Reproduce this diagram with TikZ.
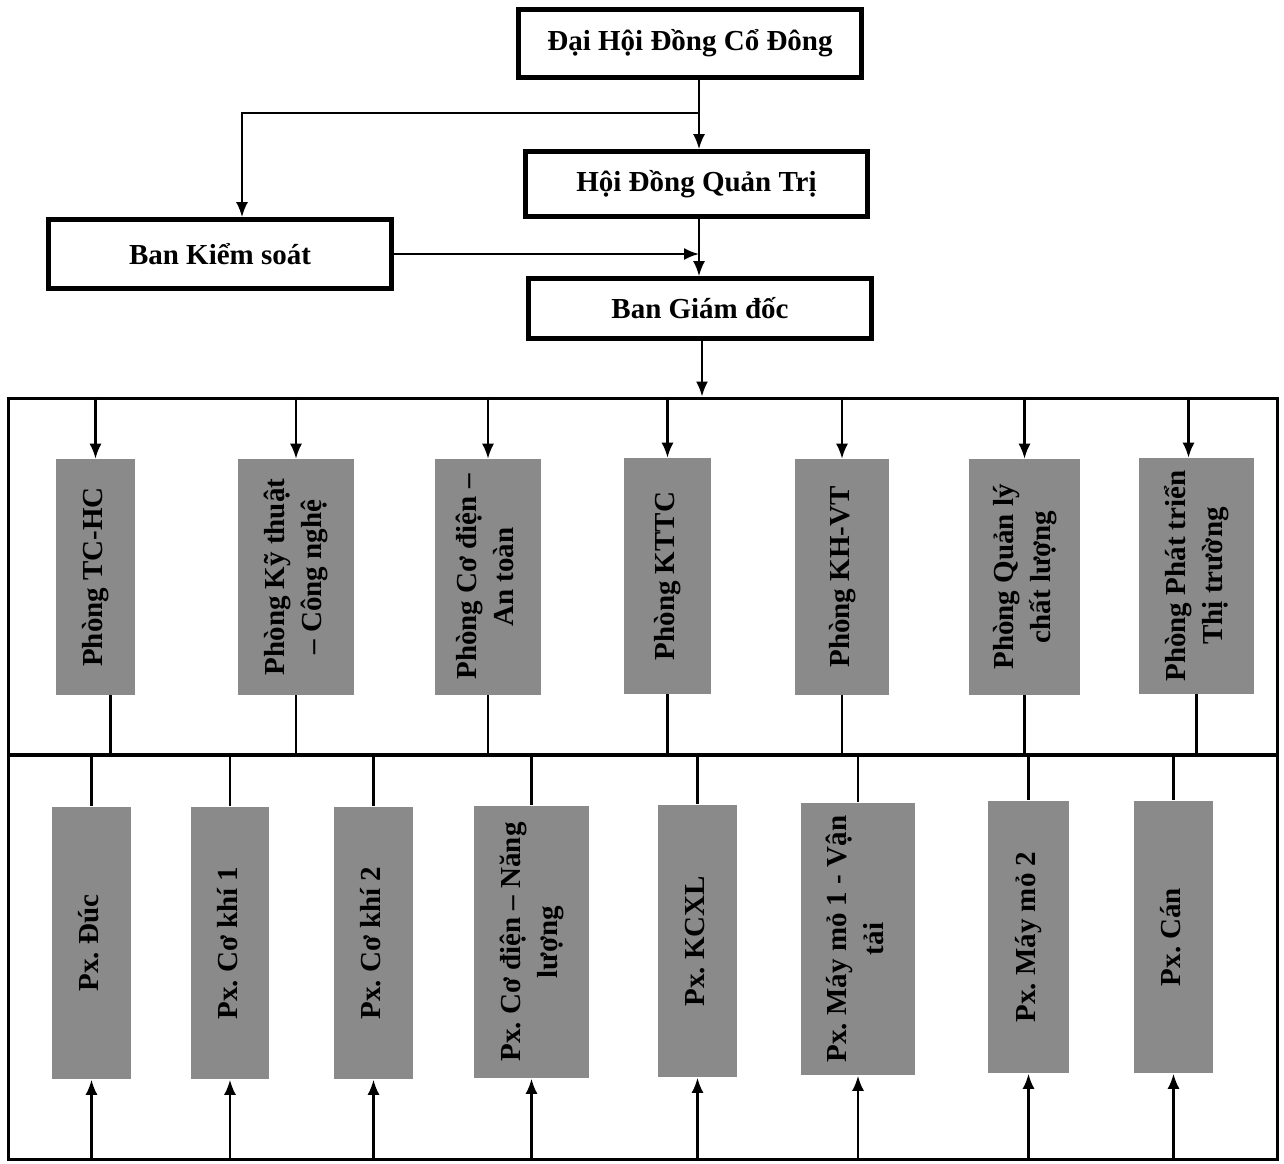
\documentclass[tikz,border=0pt]{standalone}
\usepackage{fontspec}
\setmainfont{Liberation Serif}
\usepackage{graphicx}
\usepackage{tikz}
\usetikzlibrary{arrows.meta}
\frenchspacing
\definecolor{xamC}{HTML}{8A8A8A}
\newcommand{\dung}[1]{\rotatebox{90}{\begin{tabular}{@{}c@{}}#1\end{tabular}}}
\tikzset{
  bancap/.style={rectangle, draw=black, line width=2.7pt, fill=white, inner sep=0pt,
                 font=\bfseries\fontsize{16.5}{21}\selectfont, minimum width=6.85cm, minimum height=#1},
  phong/.style={rectangle, fill=xamC, inner sep=0pt, align=center,
                font=\bfseries\fontsize{16.5}{21}\selectfont, minimum width=#1},
  khung/.style={rectangle, draw=black, line width=1.7pt, minimum width=25.4cm, minimum height=#1},
  arr/.style={-{Latex[length=3mm,width=2.4mm]}, line width=1.2pt, draw=black},
  noi/.style={line width=1.2pt, draw=black},
}

\begin{document}
\begin{tikzpicture}[x=0.02cm, y=-0.02cm]
    \useasboundingbox (0,0) rectangle (1284,1163);
    \node[bancap=1.35cm] (dhcd) at (690,43.5) {Đại Hội Đồng Cổ Đông};
    \node[bancap=1.3cm] (hdqt) at (696.5,184) {Hội Đồng Quản Trị};
    \node[bancap=1.38cm] (bks) at (220,254) {Ban Kiểm soát};
    \node[bancap=1.2cm] (bgd) at (700,308.5) {Ban Giám đốc};
    \coordinate (truc) at (699,0);
    \coordinate (tach) at (699,113);
    \draw[arr] (dhcd.south -| truc) -- (hdqt.north -| truc);
    \draw[arr] (tach) -| ([xshift=4.4mm]bks.north);
    \draw[arr] (hdqt.south -| truc) -- (bgd.north -| truc);
    \draw[arr] (bks.east) -- (bks.east -| truc);

    \node[khung=7.14cm] (tang1) at (643,576.5) {};
    \node[khung=8.1cm] (tang2) at (643,957.5) {};
    \draw[arr] ([xshift=0.04cm]bgd.south) -- ([xshift=0.04cm]bgd.south |- tang1.north);

    \node[phong=1.58cm, minimum height=4.72cm] (p1) at (95.5,577) {\dung{Phòng TC-HC}};
    \node[phong=2.32cm, minimum height=4.72cm] (p2) at (296,577) {\dung{Phòng Kỹ thuật\\– Công nghệ}};
    \node[phong=2.12cm, minimum height=4.72cm] (p3) at (488,577) {\dung{Phòng Cơ điện –\\An toàn}};
    \node[phong=1.74cm, minimum height=4.72cm] (p4) at (667.5,576) {\dung{Phòng KTTC}};
    \node[phong=1.88cm, minimum height=4.72cm] (p5) at (842,577) {\dung{Phòng KH-VT}};
    \node[phong=2.22cm, minimum height=4.72cm] (p6) at (1024.5,577) {\dung{Phòng Quản lý\\chất lượng}};
    \node[phong=2.3cm, minimum height=4.72cm] (p7) at (1196.5,576) {\dung{Phòng Phát triển\\Thị trường}};

    \draw[arr] (p1.north |- tang1.north) -- (p1.north); \draw[arr] (p2.north |- tang1.north) -- (p2.north);
    \draw[arr] (p3.north |- tang1.north) -- (p3.north); \draw[arr] (p4.north |- tang1.north) -- (p4.north);
    \draw[arr] (p5.north |- tang1.north) -- (p5.north); \draw[arr] (p6.north |- tang1.north) -- (p6.north);
    \draw[arr] ([xshift=-1.6mm]p7.north |- tang1.north) -- ([xshift=-1.6mm]p7.north);
    \draw[noi] ([xshift=3mm]p1.south) -- ([xshift=3mm]p1.south |- tang1.south); \draw[noi] (p2.south) -- (p2.south |- tang1.south);
    \draw[noi] (p3.south) -- (p3.south |- tang1.south); \draw[noi] (p4.south) -- (p4.south |- tang1.south);
    \draw[noi] (p5.south) -- (p5.south |- tang1.south); \draw[noi] (p6.south) -- (p6.south |- tang1.south);
    \draw[noi] (p7.south) -- (p7.south |- tang1.south);

    \node[phong=1.58cm, minimum height=5.46cm] (x1) at (91.5,943) {\dung{Px. Đúc}};
    \node[phong=1.56cm, minimum height=5.46cm] (x2) at (230,943) {\dung{Px. Cơ khí 1}};
    \node[phong=1.58cm, minimum height=5.46cm] (x3) at (373.5,943) {\dung{Px. Cơ khí 2}};
    \node[phong=2.3cm, minimum height=5.46cm] (x4) at (531.5,942) {\dung{Px. Cơ điện – Năng\\lượng}};
    \node[phong=1.58cm, minimum height=5.46cm] (x5) at (697.5,941) {\dung{Px. KCXL}};
    \node[phong=2.28cm, minimum height=5.46cm] (x6) at (858,939) {\dung{Px. Máy mỏ 1 - Vận\\tải}};
    \node[phong=1.62cm, minimum height=5.46cm] (x7) at (1028.5,937) {\dung{Px. Máy mỏ 2}};
    \node[phong=1.58cm, minimum height=5.46cm] (x8) at (1173.5,937) {\dung{Px. Cán}};

    \draw[noi] (x1.north |- tang2.north) -- (x1.north); \draw[noi] (x2.north |- tang2.north) -- (x2.north);
    \draw[noi] (x3.north |- tang2.north) -- (x3.north); \draw[noi] (x4.north |- tang2.north) -- (x4.north);
    \draw[noi] (x5.north |- tang2.north) -- (x5.north); \draw[noi] (x6.north |- tang2.north) -- (x6.north);
    \draw[noi] (x7.north |- tang2.north) -- (x7.north); \draw[noi] (x8.north |- tang2.north) -- (x8.north);
    \draw[arr] (x1.south |- tang2.south) -- (x1.south); \draw[arr] (x2.south |- tang2.south) -- (x2.south);
    \draw[arr] (x3.south |- tang2.south) -- (x3.south); \draw[arr] (x4.south |- tang2.south) -- (x4.south);
    \draw[arr] (x5.south |- tang2.south) -- (x5.south); \draw[arr] (x6.south |- tang2.south) -- (x6.south);
    \draw[arr] (x7.south |- tang2.south) -- (x7.south); \draw[arr] (x8.south |- tang2.south) -- (x8.south);
  \end{tikzpicture}
\end{document}
